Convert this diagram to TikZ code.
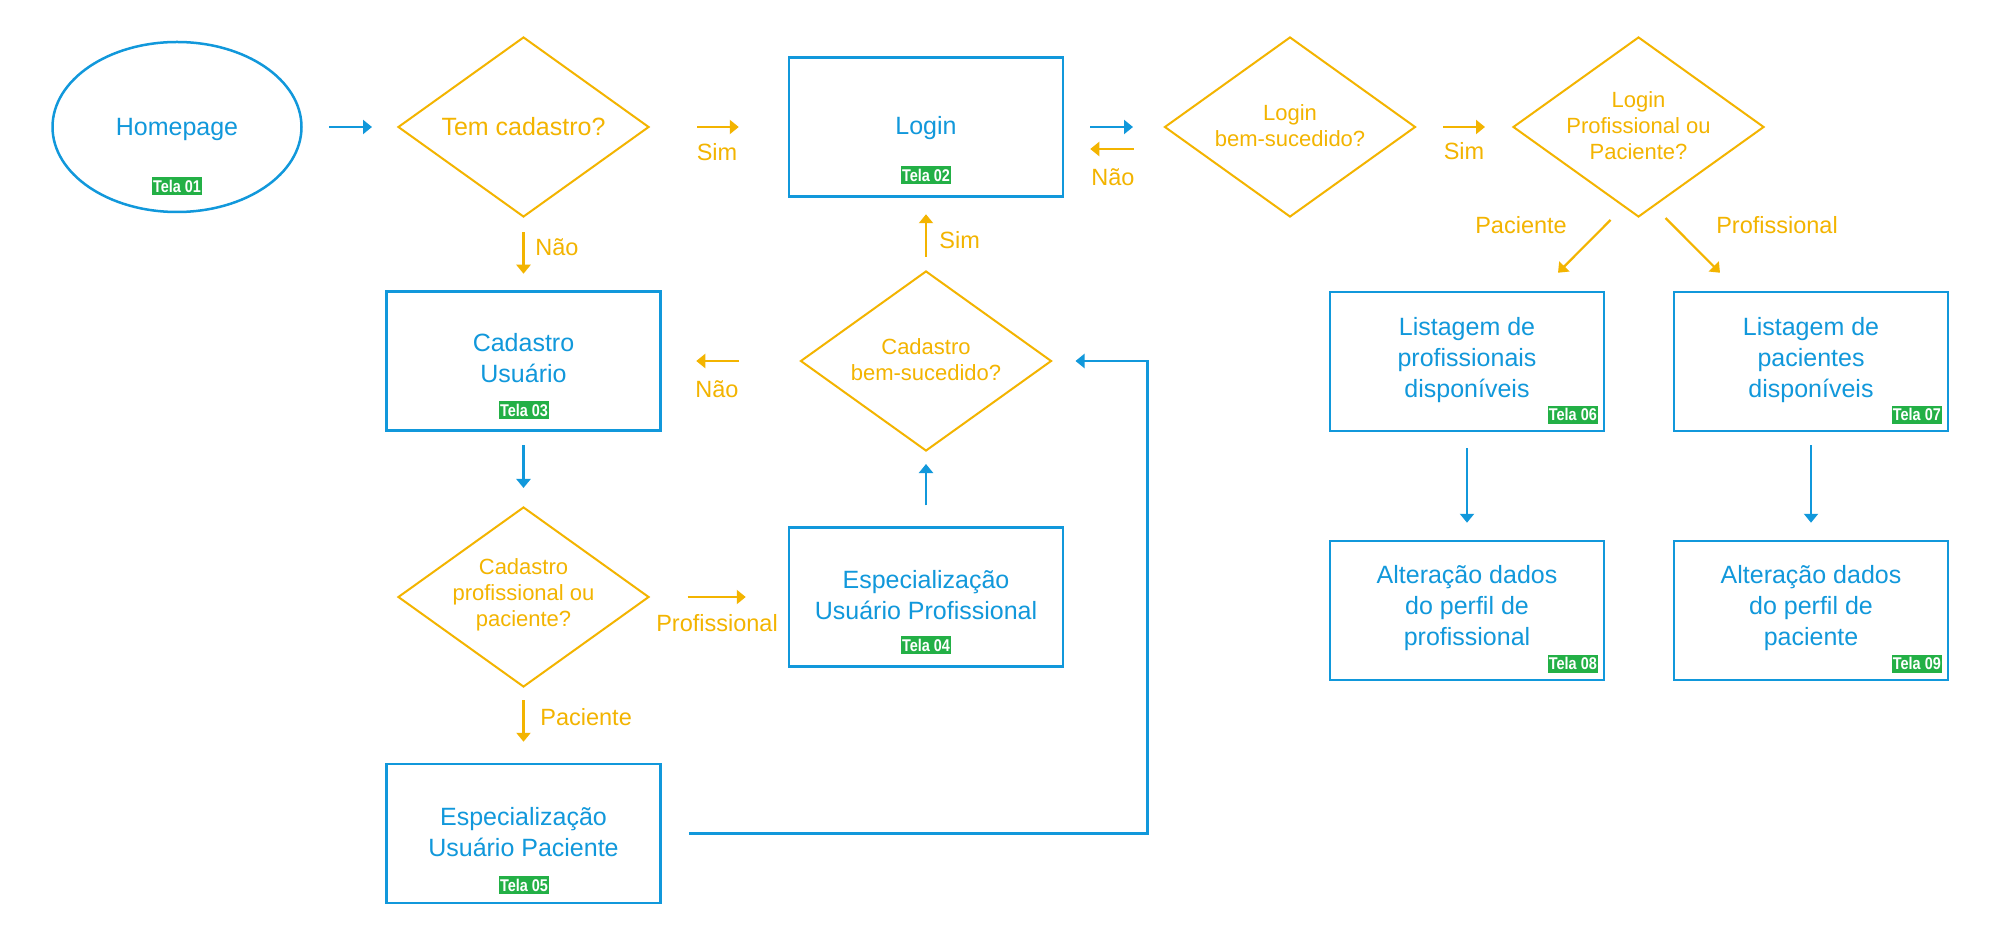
\documentclass[tikz,border=0pt]{standalone}
\usepackage{fontspec}
\setmainfont{Liberation Sans}
\newfontfamily\badgefont[FakeStretch=0.85]{Liberation Sans}
\usetikzlibrary{shapes.geometric,arrows.meta,calc}
\definecolor{cblue}{RGB}{17,152,219}
\definecolor{corange}{RGB}{243,180,0}
\definecolor{cgreen}{RGB}{35,176,70}
\tikzset{
 boxnode/.style={draw=cblue, line width=1.25pt, minimum width=137pt, minimum height=69.5pt, inner sep=0pt},
 ellnode/.style={ellipse, draw=cblue, line width=1.25pt, minimum width=124.5pt, minimum height=85pt, inner sep=0pt},
 dianode/.style={diamond, draw=corange, line width=1pt, minimum width=125.5pt, minimum height=90pt, inner sep=0pt},
 btext/.style={text=cblue, align=center, font=\fontsize{12.5}{15.5}\selectfont, inner sep=0pt},
 dtext/.style={text=corange, align=center, font=\fontsize{11}{13}\selectfont, inner sep=0pt},
 elabel/.style={text=corange, font=\fontsize{11.75}{14}\selectfont, inner sep=0pt},
 badge/.style={fill=cgreen, text=white, font=\badgefont\bfseries\fontsize{8.5}{8.5}\selectfont, minimum width=25pt, minimum height=9pt, inner sep=0pt},
 barrow/.style={draw=cblue, line width=1.1pt, -{Triangle[length=4.5pt,width=7pt]}},
 oarrow/.style={draw=corange, line width=1.1pt, -{Triangle[length=4.5pt,width=7pt]}},
}
\begin{document}
\begin{tikzpicture}[x=0.5pt, y=-0.5pt]
\fill[white] (0,0) rectangle (2000,940);
\useasboundingbox (0,0) rectangle (2000,940);

% top row
\node[ellnode] (e1) at (177,127) {};
\node[btext] (t1) at (177,129) {Homepage};
\node[badge] (g1) at (177,186) {Tela 01};

\node[dianode] (d1) at (523.5,127) {};
\node[btext, text=corange] (td1) at (d1) {Tem cadastro?};

\node[boxnode] (b2) at (926,127) {};
\node[btext] (t2) at (926,128.5) {Login};
\node[badge] (g2) at (926,175) {Tela 02};

\node[dianode] (d2) at (1290,127) {};
\node[dtext] (td2) at (1290,125.5) {Login\\bem-sucedido?};

\node[dianode] (d3) at (1638.5,127) {};
\node[dtext] (td3) at (1638.5,126) {Login\\Profissional ou\\Paciente?};

% left / middle
\node[boxnode] (b3) at (523.5,361) {};
\node[btext] (t3) at (523.5,358.5) {Cadastro\\Usuário};
\node[badge] (g3) at (524,410) {Tela 03};

\node[dianode] (d5) at (926,361) {};
\node[dtext] (td5) at (926,359.5) {Cadastro\\bem-sucedido?};

\node[dianode] (d4) at (523.5,597) {};
\node[dtext] (td4) at (523.5,595) {Cadastro\\profissional ou\\paciente?};

\node[boxnode] (b4) at (926,597) {};
\node[btext] (t4) at (926,595.5) {Especialização\\Usuário Profissional};
\node[badge] (g4) at (926,645) {Tela 04};

\node[boxnode] (b5) at (523.5,833.5) {};
\node[btext] (t5) at (523.5,832) {Especialização\\Usuário Paciente};
\node[badge] (g5) at (524,885) {Tela 05};

% right column
\node[boxnode] (b6) at (1467,361.5) {};
\node[btext] (t6) at (1467,360) {Listagem de\\profissionais\\disponíveis};
\node[badge, anchor=south east] (g6) at ($(b6.south east)+(-7,-8)$) {Tela 06};

\node[boxnode] (b7) at (1811,361.5) {};
\node[btext] (t7) at (1811,360) {Listagem de\\pacientes\\disponíveis};
\node[badge, anchor=south east] (g7) at ($(b7.south east)+(-7,-8)$) {Tela 07};

\node[boxnode] (b8) at (1467,610.5) {};
\node[btext] (t8) at (1467,608.5) {Alteração dados\\do perfil de\\profissional};
\node[badge, anchor=south east] (g8) at ($(b8.south east)+(-7,-8)$) {Tela 08};

\node[boxnode] (b9) at (1811,610.5) {};
\node[btext] (t9) at (1811,608.5) {Alteração dados\\do perfil de\\paciente};
\node[badge, anchor=south east] (g9) at ($(b9.south east)+(-7,-8)$) {Tela 09};

% connectors
\draw[barrow, shorten <=13.25pt, shorten >=12.5pt] (e1) -- (d1);
\draw[oarrow, shorten <=23.5pt, shorten >=24.5pt] (d1) -- (b2);
\node[elabel] (l1) at (717,152) {Sim};

\draw[barrow, shorten <=13pt, shorten >=15.25pt] (b2) -- (d2);
\draw[oarrow] ($(d2.west)+(-30,22)$) -- ($(b2.east)+(26,22)$);
\node[elabel] (l2) at (1113,177) {Não};

\draw[oarrow, shorten <=13.25pt, shorten >=13.5pt] (d2) -- (d3);
\node[elabel] (l3) at (1464,151) {Sim};

\draw[oarrow] ($(d3.south)+(-28,2)$) -- ($(b6.north)+(91,-18)$);
\node[elabel] (l4) at (1521,225) {Paciente};
\draw[oarrow] ($(d3.south)+(27,0)$) -- ($(b7.north)+(-91,-18)$);
\node[elabel] (l5) at (1777,225) {Profissional};

\draw[barrow, shorten <=8pt, shorten >=8.5pt] (b6) -- (b8);
\draw[barrow, shorten <=6.5pt, shorten >=8.5pt] (b7) -- (b9);

\draw[oarrow, shorten <=7pt, shorten >=8.25pt] (d1) -- (b3);
\node[elabel, anchor=west] (l6) at (535,247) {Não};

\draw[barrow, shorten <=6.75pt, shorten >=9pt] (b3) -- (d4);

\draw[oarrow, shorten <=18.75pt, shorten >=21pt] (d4) -- (b4);
\node[elabel] (l7) at (717,623) {Profissional};

\draw[barrow, shorten <=10.5pt, shorten >=6pt] (b4) -- (d5);

\draw[oarrow, shorten <=6.5pt, shorten >=8.25pt] (d5) -- (b2);
\node[elabel, anchor=west] (l8) at (939,240) {Sim};

\draw[oarrow, shorten <=30.25pt, shorten >=17.25pt] (d5) -- (b3);
\node[elabel] (l9) at (717,389) {Não};

\draw[oarrow, shorten <=6pt, shorten >=10.5pt] (d4) -- (b5);
\node[elabel, anchor=west] (l10) at (540,717) {Paciente};

\draw[barrow, line width=1.2pt] ($(b5.east)+(27,0)$) -| ($(d5.east)+(95,0)$) -- ($(d5.east)+(23,0)$);
\end{tikzpicture}
\end{document}
